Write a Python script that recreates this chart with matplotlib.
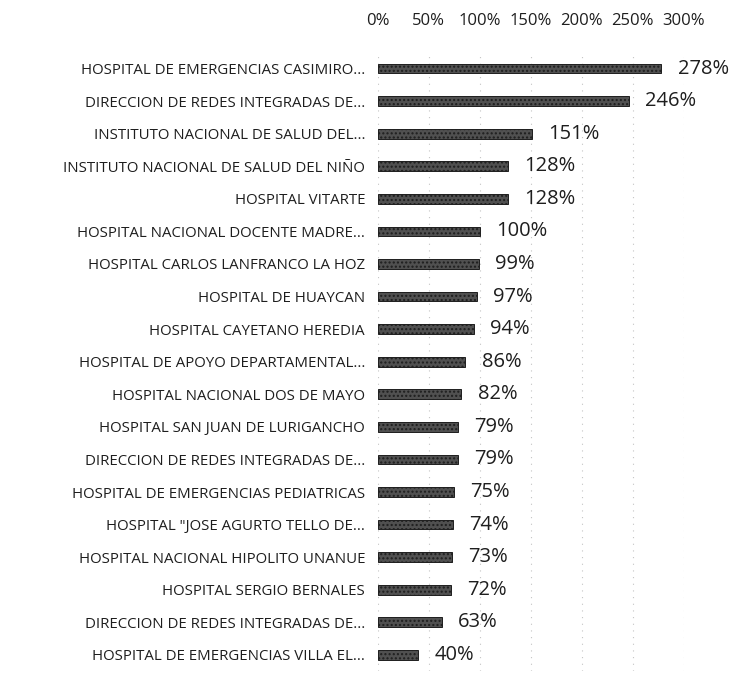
import numpy as np
import matplotlib.pyplot as plt

plt.rcParams['font.family'] = ['Open Sans', 'DejaVu Sans']

# Datos
hospitales = [
    'HOSPITAL DE EMERGENCIAS CASIMIRO...',
    'DIRECCION DE REDES INTEGRADAS DE...',
    'INSTITUTO NACIONAL DE SALUD DEL...',
    'INSTITUTO NACIONAL DE SALUD DEL NIÑO',
    'HOSPITAL VITARTE',
    'HOSPITAL NACIONAL DOCENTE MADRE...',
    'HOSPITAL CARLOS LANFRANCO LA HOZ',
    'HOSPITAL DE HUAYCAN',
    'HOSPITAL CAYETANO HEREDIA',
    'HOSPITAL DE APOYO DEPARTAMENTAL...',
    'HOSPITAL NACIONAL DOS DE MAYO',
    'HOSPITAL SAN JUAN DE LURIGANCHO',
    'DIRECCION DE REDES INTEGRADAS DE...',
    'HOSPITAL DE EMERGENCIAS PEDIATRICAS',
    'HOSPITAL "JOSE AGURTO TELLO DE...',
    'HOSPITAL NACIONAL HIPOLITO UNANUE',
    'HOSPITAL SERGIO BERNALES',
    'DIRECCION DE REDES INTEGRADAS DE...',
    'HOSPITAL DE EMERGENCIAS VILLA EL...',
]
porcentajes = [278, 246, 151, 128, 128, 100, 99, 97, 94, 86, 82, 79, 79, 75, 74, 73, 72, 63, 40]
ticks = [0, 50, 100, 150, 200, 250, 300]

fig = plt.figure(figsize=(7.36, 6.87), dpi=100)
ax = fig.add_axes([0.513, 0.023, 0.416, 0.901])

y = np.arange(len(hospitales))
ax.barh(y, porcentajes, height=0.3, color='#505050', edgecolor='#1e1e1e',
        linewidth=0.7, hatch='....', zorder=3)

for yi, v in zip(y, porcentajes):
    ax.text(v + 16, yi, f'{v}%', va='center', ha='left', fontsize=14.5, color='#1e1e1e')

ax.set_xlim(0, 300)
ax.set_ylim(len(hospitales) - 0.5, -0.5)
ax.set_yticks(y)
ax.set_yticklabels(hospitales, fontsize=10.8, color='#1e1e1e')
ax.set_xticks(ticks)
ax.set_xticklabels([f'{t}%' for t in ticks], fontsize=12, color='#1e1e1e')
ax.xaxis.tick_top()
ax.tick_params(axis='x', length=0, pad=17)
ax.tick_params(axis='y', length=0, pad=9)
ax.grid(axis='x', linestyle=(0, (1, 5)), color='#c4c4c4', linewidth=0.8, zorder=0)
for s in ax.spines.values():
    s.set_visible(False)

fig.savefig('out.png', dpi=100)
